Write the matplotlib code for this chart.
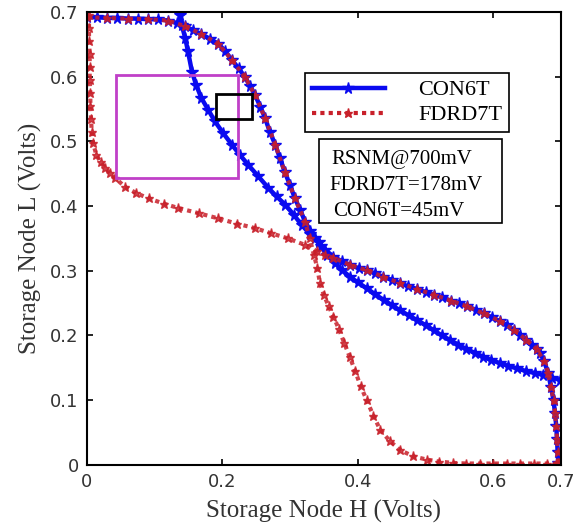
import matplotlib.pyplot as plt
from matplotlib.patches import Rectangle

# CON6T butterfly curves (Storage Node H, Storage Node L), volts
con6t_h1 = [0.000, 0.015, 0.030, 0.045, 0.060, 0.075, 0.090, 0.105, 0.120, 0.133,
            0.145, 0.157, 0.169, 0.181, 0.194, 0.204, 0.214, 0.224, 0.233, 0.241,
            0.248, 0.256, 0.263, 0.270, 0.278, 0.285, 0.292, 0.300, 0.307, 0.315,
            0.322, 0.330, 0.337, 0.345, 0.355, 0.366, 0.377, 0.388, 0.400, 0.413,
            0.425, 0.438, 0.450, 0.462, 0.475, 0.487, 0.500, 0.512, 0.524, 0.536,
            0.548, 0.560, 0.573, 0.585, 0.597, 0.610, 0.622, 0.635, 0.648, 0.661,
            0.674, 0.687, 0.699]
con6t_l1 = [0.692, 0.692, 0.691, 0.691, 0.690, 0.690, 0.689, 0.689, 0.687, 0.683,
            0.678, 0.672, 0.666, 0.659, 0.651, 0.640, 0.626, 0.613, 0.600, 0.586,
            0.572, 0.554, 0.536, 0.515, 0.495, 0.474, 0.453, 0.432, 0.412, 0.394,
            0.376, 0.362, 0.350, 0.338, 0.325, 0.312, 0.301, 0.291, 0.282, 0.273,
            0.264, 0.255, 0.247, 0.239, 0.231, 0.224, 0.216, 0.208, 0.200, 0.193,
            0.186, 0.179, 0.173, 0.167, 0.162, 0.157, 0.153, 0.149, 0.145, 0.142,
            0.139, 0.135, 0.131]
con6t_h2 = [0.137, 0.140, 0.145, 0.149, 0.155, 0.161, 0.169, 0.179, 0.189, 0.201,
            0.214, 0.226, 0.238, 0.253, 0.268, 0.280, 0.293, 0.305, 0.317, 0.329,
            0.342, 0.352, 0.364, 0.376, 0.389, 0.401, 0.413, 0.425, 0.437, 0.450,
            0.462, 0.474, 0.487, 0.500, 0.512, 0.524, 0.537, 0.549, 0.561, 0.574,
            0.586, 0.598, 0.610, 0.620, 0.630, 0.640, 0.649, 0.657, 0.664, 0.669,
            0.675, 0.681, 0.685, 0.689, 0.691, 0.693, 0.694, 0.695, 0.696]
con6t_l2 = [0.695, 0.680, 0.660, 0.640, 0.608, 0.588, 0.567, 0.549, 0.531, 0.513,
            0.495, 0.479, 0.464, 0.446, 0.428, 0.415, 0.402, 0.387, 0.371, 0.357,
            0.345, 0.332, 0.322, 0.315, 0.309, 0.304, 0.301, 0.296, 0.291, 0.286,
            0.281, 0.276, 0.272, 0.267, 0.263, 0.259, 0.254, 0.250, 0.245, 0.240,
            0.234, 0.228, 0.222, 0.216, 0.209, 0.201, 0.193, 0.186, 0.179, 0.173,
            0.160, 0.142, 0.121, 0.100, 0.080, 0.060, 0.040, 0.020, 0.003]

# FDRD7T butterfly curves
fdrd7t_h1 = [0.003, 0.003, 0.003, 0.004, 0.004, 0.004, 0.005, 0.005, 0.006, 0.007,
             0.009, 0.014, 0.020, 0.027, 0.034, 0.041, 0.056, 0.073, 0.091, 0.113,
             0.135, 0.165, 0.194, 0.221, 0.248, 0.272, 0.297, 0.322, 0.340, 0.352,
             0.364, 0.389, 0.413, 0.437, 0.462, 0.487, 0.512, 0.537, 0.561, 0.586,
             0.610, 0.630, 0.649, 0.664, 0.675, 0.681, 0.685, 0.689, 0.691, 0.693,
             0.694, 0.695, 0.696]
fdrd7t_l1 = [0.695, 0.675, 0.655, 0.635, 0.615, 0.595, 0.575, 0.555, 0.535, 0.515,
             0.497, 0.479, 0.468, 0.459, 0.451, 0.444, 0.430, 0.420, 0.412, 0.404,
             0.397, 0.389, 0.381, 0.373, 0.366, 0.358, 0.350, 0.340, 0.330, 0.324,
             0.320, 0.309, 0.301, 0.291, 0.281, 0.272, 0.263, 0.254, 0.245, 0.234,
             0.222, 0.209, 0.193, 0.179, 0.160, 0.142, 0.121, 0.100, 0.080, 0.060,
             0.040, 0.020, 0.003]
fdrd7t_h2 = [0.000, 0.030, 0.060, 0.090, 0.120, 0.145, 0.169, 0.194, 0.214, 0.233,
             0.248, 0.263, 0.278, 0.292, 0.307, 0.322, 0.329, 0.335, 0.340, 0.344,
             0.350, 0.357, 0.364, 0.372, 0.380, 0.388, 0.396, 0.404, 0.413, 0.423,
             0.433, 0.447, 0.462, 0.482, 0.502, 0.520, 0.540, 0.560, 0.580, 0.600,
             0.620, 0.640, 0.660, 0.680, 0.693]
fdrd7t_l2 = [0.692, 0.691, 0.690, 0.689, 0.687, 0.678, 0.666, 0.651, 0.626, 0.600,
             0.572, 0.536, 0.495, 0.453, 0.412, 0.376, 0.350, 0.325, 0.305, 0.281,
             0.262, 0.245, 0.229, 0.210, 0.188, 0.167, 0.145, 0.122, 0.100, 0.076,
             0.054, 0.037, 0.023, 0.013, 0.008, 0.005, 0.003, 0.002, 0.002, 0.002,
             0.002, 0.002, 0.002, 0.002, 0.002]

# noise margin boxes: (H, L) lower-left corner, width, height
rsnm_fdrd7t_box = (0.043, 0.444, 0.180, 0.158)
rsnm_con6t_box = (0.190, 0.534, 0.054, 0.040)

xtick_vals = [0, 0.2, 0.4, 0.6, 0.7]
ytick_vals = [0, 0.1, 0.2, 0.3, 0.4, 0.5, 0.6, 0.7]

blue = '#0a0af0'
red = '#c8202a'
serif = ['Liberation Serif', 'DejaVu Serif']

fig = plt.figure(figsize=(5.76, 5.27), dpi=100)
ax = fig.add_axes([0.151, 0.118, 0.823, 0.859])

ax.plot(con6t_h1, con6t_l1, '-', color=blue, lw=3.2, marker='*', ms=8.5, mec=blue, label='CON6T')
ax.plot(con6t_h2, con6t_l2, '-', color=blue, lw=3.2, marker='*', ms=8.5, mec=blue)
ax.plot(fdrd7t_h1, fdrd7t_l1, color=red, lw=3, ls=(0, (1, 1)), marker='*', ms=6.5,
        mec=red, alpha=0.85, label='FDRD7T')
ax.plot(fdrd7t_h2, fdrd7t_l2, color=red, lw=3, ls=(0, (1, 1)), marker='*', ms=6.5,
        mec=red, alpha=0.85)

x0, y0, w, h = rsnm_fdrd7t_box
ax.add_patch(Rectangle((x0, y0), w, h, fill=False, edgecolor='#c040c8', lw=2, zorder=5))
x0, y0, w, h = rsnm_con6t_box
ax.add_patch(Rectangle((x0, y0), w, h, fill=False, edgecolor='black', lw=2, zorder=5))

ax.set_xlim(0, 0.7)
ax.set_ylim(0, 0.7)
ax.set_xticks(xtick_vals)
ax.set_xticklabels(['0', '0.2', '0.4', '0.6', '0.7'])
ax.set_yticks(ytick_vals)
ax.set_yticklabels(['0', '0.1', '0.2', '0.3', '0.4', '0.5', '0.6', '0.7'])
ax.tick_params(direction='in', top=True, right=True, length=4, width=1.2,
               labelsize=13, labelcolor='#333333', pad=6)
for s in ax.spines.values():
    s.set_linewidth(1.5)

ax.set_xlabel('Storage Node H (Volts)', fontsize=18, family=serif, color='#333333', labelpad=6)
ax.set_ylabel('Storage Node L (Volts)', fontsize=18, family=serif, color='#333333', labelpad=6)

leg = ax.legend(loc='upper left', bbox_to_anchor=(0.46, 0.865), borderaxespad=0,
                prop={'family': serif, 'size': 16}, handlelength=3.3, numpoints=1,
                fancybox=False, framealpha=1, edgecolor='black', borderpad=0.3,
                labelspacing=0.2, handletextpad=1.5)
leg.get_frame().set_linewidth(1.2)
for line in leg.get_lines():
    line.set_alpha(1)

ax.add_patch(Rectangle((0.49, 0.534), 0.386, 0.186, transform=ax.transAxes,
                       fill=False, edgecolor='black', lw=1.2, zorder=6))
ax.text(0.516, 0.6645, 'RSNM@700mV', transform=ax.transAxes, fontsize=15,
        family=serif, va='baseline')
ax.text(0.511, 0.606, 'FDRD7T=178mV', transform=ax.transAxes, fontsize=15,
        family=serif, va='baseline')
ax.text(0.519, 0.5497, 'CON6T=45mV', transform=ax.transAxes, fontsize=15,
        family=serif, va='baseline')

fig.savefig('out.png', dpi=100)
